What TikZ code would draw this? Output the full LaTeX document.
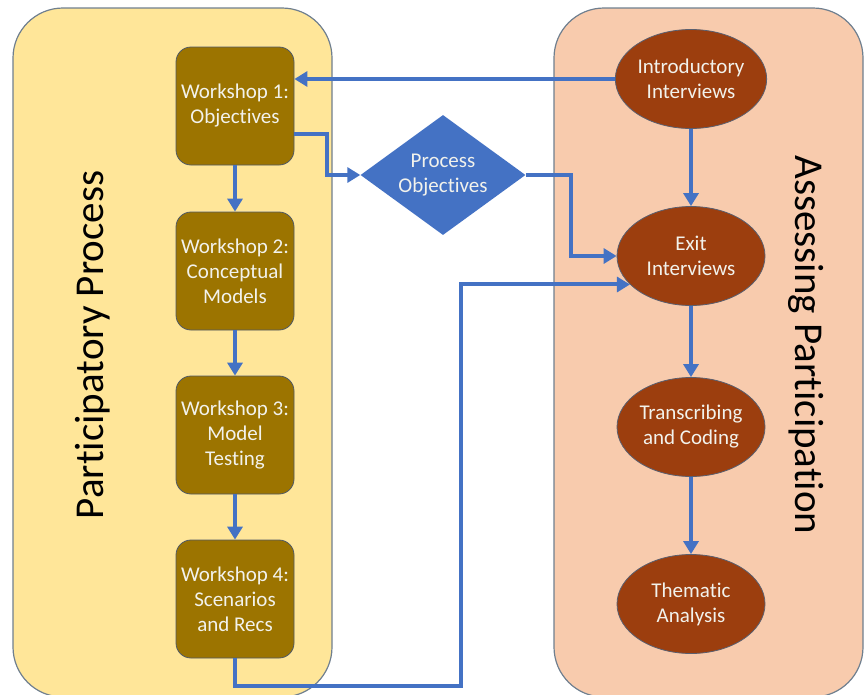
\documentclass[tikz,border=0pt]{standalone}
\usepackage{fontspec}
\setmainfont{Carlito}[Ligatures=NoCommon]
\usetikzlibrary{shapes.geometric,arrows.meta}
\definecolor{panelY}{HTML}{FFE699}
\definecolor{panelO}{HTML}{F8CBAD}
\definecolor{panelLine}{HTML}{6F7F8F}
\definecolor{wsFill}{HTML}{9C7400}
\definecolor{wsLine}{HTML}{505A66}
\definecolor{ovFill}{HTML}{9C3E0E}
\definecolor{ovLine}{HTML}{5A5F70}
\definecolor{arrBlue}{HTML}{4472C4}
\definecolor{lightTxt}{HTML}{F2F2EC}
\tikzset{
  panel/.style={draw=panelLine, line width=1.2pt, rounded corners=50pt, inner sep=0pt},
  wsbox/.style={draw=wsLine, line width=0.8pt, fill=wsFill, rounded corners=15pt,
    minimum width=118pt, minimum height=118pt, inner sep=0pt, align=center,
    text=lightTxt, font=\fontsize{21}{25}\selectfont},
  ovnode/.style={ellipse, draw=ovLine, line width=0.8pt, fill=ovFill,
    minimum width=148pt, minimum height=99pt, inner sep=0pt, align=center,
    text=lightTxt, font=\fontsize{21}{25}\selectfont},
  dnode/.style={diamond, fill=arrBlue, minimum width=165pt, minimum height=120pt,
    aspect=1.375, inner sep=0pt, align=center, text=lightTxt,
    font=\fontsize{21}{25}\selectfont},
  ttl/.style={font=\fontsize{41}{41}\selectfont, text=black, inner sep=0pt},
  arr/.style={draw=arrBlue, line width=4pt, -{Triangle[length=13pt,width=15pt]}}
}
\begin{document}
\begin{tikzpicture}[x=1pt,y=-1pt]
\useasboundingbox (0,0) rectangle (864,694);
% panels
\node[panel, fill=panelY, minimum width=319pt, minimum height=689pt] (pp) at (172.5,352.5) {};
\node[panel, fill=panelO, minimum width=309pt, minimum height=689pt] (ap) at (708.5,352.5) {};
\node[ttl, rotate=90] (ppt) at (93,345) {Participatory Process};
\node[ttl, rotate=-90] (apt) at (806,345) {Assessing Participation};
% workshops
\node[wsbox] (w1) at (235,106) {Workshop 1:\\Objectives};
\node[wsbox] (w2) at (235,271) {Workshop 2:\\Conceptual\\Models};
\node[wsbox] (w3) at (235,435) {Workshop 3:\\Model\\Testing};
\node[wsbox] (w4) at (235,599) {Workshop 4:\\Scenarios\\and Recs};
% ellipses
\node[ovnode] (intro) at (691,79) {Introductory\\Interviews};
\node[ovnode] (exit) at (691,256) {Exit\\Interviews};
\node[ovnode] (trans) at (691,427) {Transcribing\\and Coding};
\node[ovnode] (them) at (691,604) {Thematic\\Analysis};
% diamond
\node[dnode] (po) at (443,175) {Process\\Objectives};
% connectors
\draw[arr] (w1) -- (w2);
\draw[arr] (w2) -- (w3);
\draw[arr] (w3) -- (w4);
\draw[arr] (intro) -- (exit);
\draw[arr] (exit) -- (trans);
\draw[arr] (trans) -- (them);
\draw[arr] (intro.west) -- (w1.east |- intro.west);
\coordinate (b1) at (327,134);
\draw[arr] (w1.east |- b1) -- (b1) |- (po.west);
\coordinate (b2) at (571,175);
\draw[arr] (po.east) -- (b2) |- (exit.west);
\coordinate (b3) at (461,686);
\draw[arr] (w4.south) |- (b3) |- (exit.205);
\end{tikzpicture}
\end{document}
